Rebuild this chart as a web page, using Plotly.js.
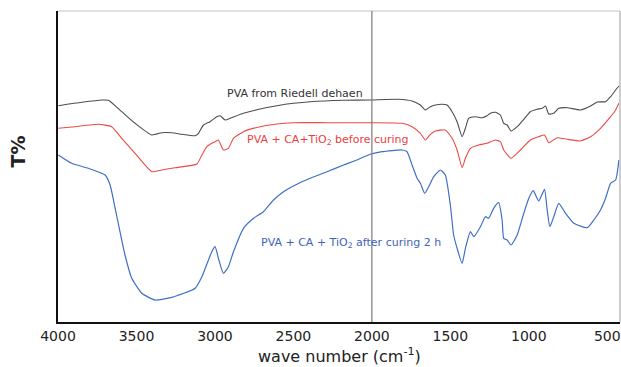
<!DOCTYPE html>
<html>
<head>
<meta charset="utf-8">
<script src="https://cdn.plot.ly/plotly-3.0.1.min.js"></script>
<style>
html,body{margin:0;padding:0;background:#fff;}
#chart{width:621px;height:367px;}
</style>
</head>
<body>
<div id="chart"></div>
<script>
// wavenumbers (cm-1) and transmittance (arbitrary units)
const pvaWn = [3998,3849,3721,3679,3594,3509,3402,3339,3275,3211,3126,3105,3073,3031,2988,2967,2935,2903,2818,2712,2605,2499,2393,2180,2010,1830,1744,1691,1659,1627,1595,1553,1521,1489,1457,1425,1404,1383,1340,1298,1266,1245,1213,1181,1160,1138,1113,1074,1032,990,947,915,894,873,841,809,756,671,607,564,511,479,447,426];
const pvaT  = [216.3,219.7,222,221.7,210.3,198.7,187,189.3,189.3,187.7,186.3,188.7,197,200.3,205.3,206.3,202,203.7,208.7,213,216.3,218.7,220.3,221.7,222,222.7,221,217,212,215.3,217,217.7,217,210.3,200.3,185.3,193.7,203.7,205.3,204.3,206.3,208.7,209.7,207,198.7,197,191,195.3,202.7,210.3,212.7,213.7,216,208,208.7,213.7,214.3,212,216,220,220.3,225.3,232,236];

const beforeWn = [3998,3892,3743,3658,3594,3509,3402,3339,3254,3115,3083,3052,3031,2999,2978,2946,2914,2882,2818,2712,2605,2499,2286,2010,1808,1744,1691,1659,1627,1595,1532,1489,1457,1425,1404,1372,1319,1266,1213,1181,1160,1113,1053,990,937,900,873,819,756,671,607,543,479,447,426];
const beforeT  = [193.7,195.3,197.7,195.3,183.7,168.7,150.3,152,154.3,158,167,175.3,177.7,180.3,182,172,173.7,183.7,190.3,195.3,198,199.3,199.3,199.3,198.7,195.3,188.7,182,187.7,191,192,183.7,172,154.3,163.7,173.7,177,178.7,182,180.3,172,163.7,172,182,185.3,187,179.3,184.3,182.7,181,185.3,193.7,205.3,212,218.7];

const afterWn = [3998,3913,3807,3700,3668,3636,3605,3573,3530,3466,3381,3275,3126,3083,3020,2999,2978,2946,2914,2882,2818,2754,2691,2627,2563,2478,2393,2286,2180,2095,2010,1935,1808,1776,1744,1712,1691,1664,1638,1606,1564,1532,1500,1479,1457,1425,1404,1372,1351,1308,1277,1256,1224,1192,1170,1160,1138,1113,1074,1032,1000,972,937,900,883,866,841,809,766,713,628,586,543,511,479,447,426];
const afterT  = [167,158.7,153.7,147,137,113.7,90.3,67,43.7,28.7,22,24.7,33.7,45.3,70.3,75.3,63.7,48.7,55.3,70.3,93.7,103.7,110.3,122,130.3,137.7,143.7,150.3,157,162,167.7,170.3,172,170.3,157,143.7,138.7,128.7,135.3,145.3,152,147,117,87,73.7,58.7,73.7,90.3,85.3,95.3,105.3,103.7,113.7,119.3,102,83.7,82,77,87,108.7,123.7,131.3,121,132.7,112,95.3,105.3,118.7,108.7,98.7,94.3,102,112,123.7,138.7,142,162];

const xTicks = [4000,3500,3000,2500,2000,1500,1000,500];
const xRange = [4000, 419];
const refLineWn = 2000;

const labelGray = 'PVA from Riedell dehaen';
const labelRed = 'PVA + CA+TiO<sub>2</sub> before curing';
const labelBlue = 'PVA + CA + TiO<sub>2</sub> after curing 2 h';
const xTitle = 'wave number (cm<sup>-1</sup>)';
const yTitle = 'T%';

const font = 'DejaVu Sans, Arial, sans-serif';

const traces = [
  {x: pvaWn, y: pvaT, type: 'scatter', mode: 'lines', line: {color: '#4d4d4d', width: 1.1, shape: 'spline', smoothing: 0.5}, hoverinfo: 'skip'},
  {x: beforeWn, y: beforeT, type: 'scatter', mode: 'lines', line: {color: '#ec4a44', width: 1.1, shape: 'spline', smoothing: 0.5}, hoverinfo: 'skip'},
  {x: afterWn, y: afterT, type: 'scatter', mode: 'lines', line: {color: '#3f6fc4', width: 1.2, shape: 'spline', smoothing: 0.5}, hoverinfo: 'skip'}
];

const layout = {
  width: 621, height: 367,
  margin: {l: 58, r: 1, t: 11, b: 45},
  paper_bgcolor: '#fff', plot_bgcolor: '#fff',
  showlegend: false,
  xaxis: {
    range: xRange, tickvals: xTicks, ticktext: xTicks.map(String),
    showgrid: false, zeroline: false, ticks: '',
    showline: true, linecolor: '#111', linewidth: 2,
    tickfont: {family: font, size: 14, color: '#222'}
  },
  yaxis: {
    range: [0, 311], showticklabels: false, showgrid: false, zeroline: false, ticks: '',
    showline: true, linecolor: '#111', linewidth: 2
  },
  shapes: [
    {type: 'line', xref: 'paper', yref: 'paper', x0: 0, x1: 1, y0: 1, y1: 1, line: {color: '#c4c4c4', width: 1}},
    {type: 'line', xref: 'paper', yref: 'paper', x0: 1, x1: 1, y0: 0, y1: 1, line: {color: '#bdbdbd', width: 1.5}},
    {type: 'line', xref: 'x', yref: 'paper', x0: refLineWn, x1: refLineWn, y0: 0, y1: 1, line: {color: '#7a7a7a', width: 1.2}}
  ],
  annotations: [
    {text: labelGray, xref: 'paper', yref: 'paper', x: 0.4217, y: 0.7354, showarrow: false, xanchor: 'center', yanchor: 'middle', font: {family: font, size: 11, color: '#333'}},
    {text: labelRed, xref: 'paper', yref: 'paper', x: 0.4804, y: 0.5852, showarrow: false, xanchor: 'center', yanchor: 'middle', font: {family: font, size: 11, color: '#ec4040'}},
    {text: labelBlue, xref: 'paper', yref: 'paper', x: 0.5214, y: 0.255, showarrow: false, xanchor: 'center', yanchor: 'middle', font: {family: font, size: 11, color: '#3f62b8'}},
    {text: xTitle, xref: 'paper', yref: 'paper', x: 0.5, y: -0.108, showarrow: false, xanchor: 'center', yanchor: 'middle', font: {family: font, size: 16, color: '#222'}},
    {text: '<b>' + yTitle + '</b>', xref: 'paper', yref: 'paper', x: (17.5 - 58) / 562, y: (322 - 152) / 311, showarrow: false, xanchor: 'center', yanchor: 'middle', textangle: -90, font: {family: font, size: 19, color: '#222'}}
  ]
};

Plotly.newPlot('chart', traces, layout, {staticPlot: true, displayModeBar: false});
</script>
</body>
</html>
